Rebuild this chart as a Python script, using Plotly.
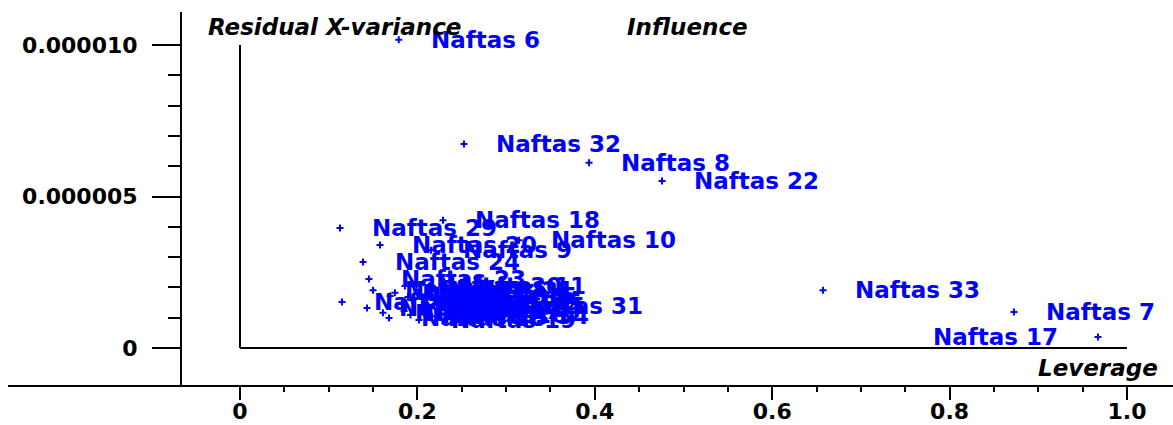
import plotly.graph_objects as go

# Sample names with leverage and residual X-variance for each
samples = [
    "Naftas 6", "Naftas 32", "Naftas 8", "Naftas 22", "Naftas 18", "Naftas 29",
    "Naftas 20", "Naftas 10", "Naftas 9", "Naftas 24", "Naftas 23", "Naftas 33",
    "Naftas 7", "Naftas 17", "Naftas 11", "Naftas 31", "Naftas 19", "Naftas 36",
    "Naftas 1", "Naftas 2", "Naftas 3", "Naftas 4", "Naftas 5", "Naftas 12",
    "Naftas 13", "Naftas 14", "Naftas 15", "Naftas 16", "Naftas 21", "Naftas 25",
    "Naftas 26", "Naftas 27", "Naftas 28", "Naftas 30", "Naftas 34", "Naftas 35",
]
leverage = [
    0.179, 0.2525, 0.3935, 0.4758, 0.2289, 0.1127,
    0.1578, 0.3145, 0.2153, 0.1387, 0.1454, 0.6573,
    0.8726, 0.9673, 0.2131, 0.2773, 0.2018, 0.1894,
    0.150, 0.115, 0.1432, 0.1612, 0.1747, 0.1826,
    0.1939, 0.2086, 0.2032, 0.1922, 0.1990, 0.2080,
    0.1693, 0.1850, 0.168, 0.186, 0.2165, 0.2124,
]
resid_x_var = [
    10.17e-6, 6.73e-6, 6.11e-6, 5.51e-6, 4.22e-6, 3.96e-6,
    3.40e-6, 3.56e-6, 3.23e-6, 2.84e-6, 2.28e-6, 1.91e-6,
    1.19e-6, 0.36e-6, 2.05e-6, 1.39e-6, 0.92e-6, 1.68e-6,
    1.91e-6, 1.52e-6, 1.32e-6, 1.16e-6, 1.82e-6, 1.45e-6,
    1.58e-6, 1.29e-6, 1.72e-6, 1.09e-6, 1.91e-6, 1.52e-6,
    1.72e-6, 1.22e-6, 0.99e-6, 2.05e-6, 1.05e-6, 1.39e-6,
]

x_ticks = [0, 0.2, 0.4, 0.6, 0.8, 1.0]
x_tick_text = ["0", "0.2", "0.4", "0.6", "0.8", "1.0"]
y_ticks = [0, 5e-6, 1e-5]
y_tick_text = ["0", "0.000005", "0.000010"]

BLUE = "#0000ff"
tick_font = dict(family="DejaVu Sans", size=22, color="black", weight="bold")
label_font = dict(family="DejaVu Sans", size=23, color=BLUE, weight="bold")
title_font = dict(family="DejaVu Sans", size=23, color="black",
                  weight="bold", style="italic")

fig = go.Figure()
fig.add_trace(go.Scatter(
    x=leverage, y=resid_x_var, mode="markers",
    marker=dict(symbol="cross-thin", size=5, color=BLUE,
                line=dict(color=BLUE, width=2)),
    hovertext=samples, showlegend=False,
))

# Sample labels beside each point (left side near the right edge)
for name, lx, ry in zip(samples, leverage, resid_x_var):
    right_edge = lx > 0.95
    fig.add_annotation(
        x=lx, y=ry, text=name, showarrow=False,
        xanchor="right" if right_edge else "left", yanchor="middle",
        xshift=-38 if right_edge else 30, font=label_font,
    )

# Inner frame: vertical at zero leverage, horizontal at zero residual
fig.add_shape(type="line", x0=0, x1=0, y0=0, y1=1e-5,
              line=dict(color="black", width=2))
fig.add_shape(type="line", x0=0, x1=1.0, y0=0, y1=0,
              line=dict(color="black", width=2))

fig.add_annotation(x=-0.0385, y=1.06e-5, text="Residual X-variance",
                   showarrow=False, xanchor="left", yanchor="middle",
                   font=title_font)
fig.add_annotation(x=0.4335, y=1.06e-5, text="Influence",
                   showarrow=False, xanchor="left", yanchor="middle",
                   font=title_font)
fig.add_annotation(x=1.037, y=-0.66e-6, text="Leverage",
                   showarrow=False, xanchor="right", yanchor="middle",
                   font=title_font)

fig.update_layout(
    width=1173, height=425,
    margin=dict(l=8, r=0, t=12, b=40),
    paper_bgcolor="white", plot_bgcolor="white",
    xaxis=dict(
        range=[-0.26156, 1.05186], showgrid=False, zeroline=False,
        automargin=False,
        showline=True, linecolor="black", linewidth=2,
        ticks="outside", ticklen=13, tickwidth=2, tickcolor="black",
        ticklabelstandoff=-7,
        tickvals=x_ticks, ticktext=x_tick_text, tickfont=tick_font,
        minor=dict(tickvals=[0.05 * i for i in range(21) if i % 4],
                   ticks="outside", ticklen=5, tickwidth=2,
                   tickcolor="black", showgrid=False),
    ),
    yaxis=dict(
        range=[-1.2211e-6, 1.10891e-5], showgrid=False, zeroline=False,
        automargin=False,
        anchor="free", position=0.1485,
        showline=True, linecolor="black", linewidth=2,
        ticks="outside", ticklen=28, tickwidth=2, tickcolor="black",
        ticklabelstandoff=10,
        tickvals=y_ticks, ticktext=y_tick_text, tickfont=tick_font,
        minor=dict(tickvals=[1e-6 * i for i in range(11) if i % 5],
                   ticks="outside", ticklen=12, tickwidth=2,
                   tickcolor="black", showgrid=False),
    ),
)

fig.write_html("out.html")
